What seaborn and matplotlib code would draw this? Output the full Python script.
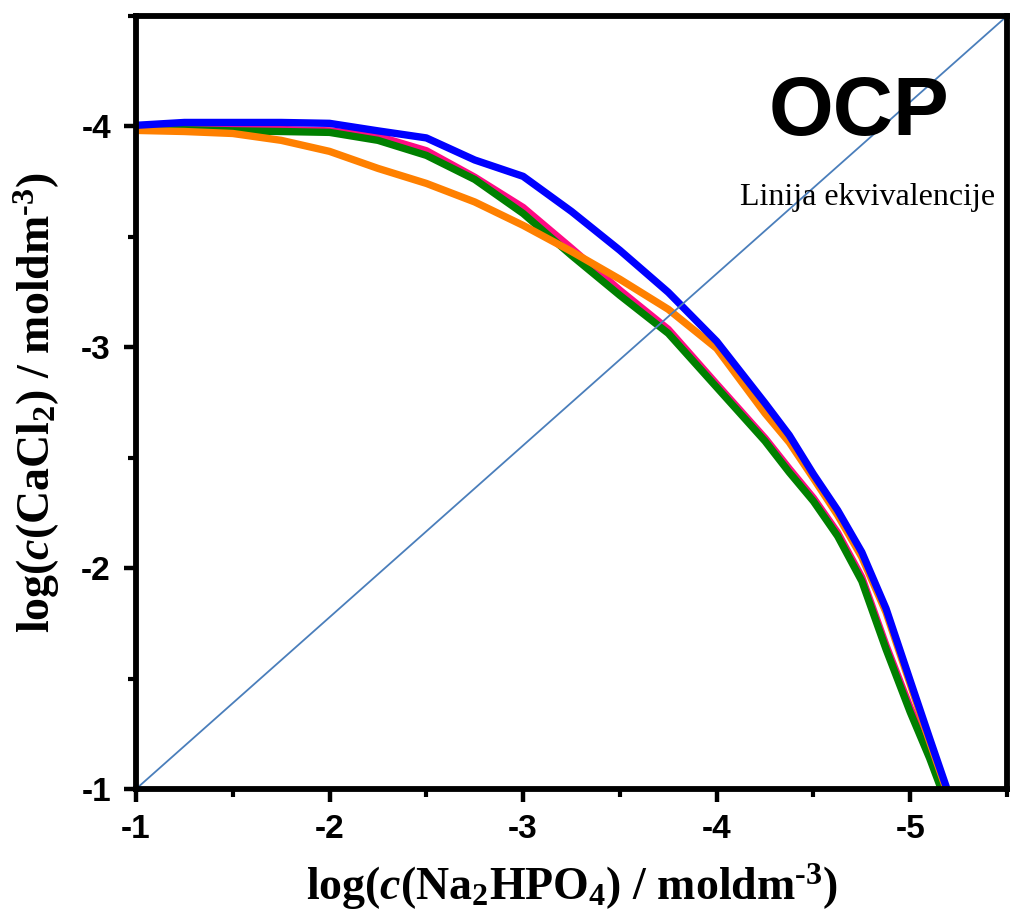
import numpy as np
import pandas as pd
import matplotlib
matplotlib.use("Agg")
import matplotlib.pyplot as plt
import seaborn as sns
from matplotlib.ticker import MultipleLocator, FixedLocator

# ---------------- data ----------------
x_grid = [-1.0, -1.25, -1.5, -1.75, -2.0, -2.25, -2.5, -2.75, -3.0, -3.25,
          -3.5, -3.75, -4.0, -4.25, -4.375, -4.5, -4.625, -4.75, -4.875, -5.0, -5.1]

blue_y = [-4.005, -4.018, -4.018, -4.018, -4.014, -3.98, -3.948, -3.848, -3.774,
          -3.615, -3.439, -3.249, -3.027, -2.747, -2.602, -2.425, -2.262, -2.072,
          -1.817, -1.49, -1.23]
blue_end = (-5.19, -1.0)

pink_y = [-3.995, -3.993, -3.99, -3.986, -3.98, -3.955, -3.89, -3.77, -3.633,
          -3.448, -3.258, -3.081, -2.833, -2.588, -2.45, -2.317, -2.16, -1.958,
          -1.65, -1.367, -1.17]
pink_end = (-5.18, -1.0)

green_y = [-3.99, -3.985, -3.98, -3.977, -3.973, -3.937, -3.869, -3.76, -3.606,
           -3.416, -3.235, -3.063, -2.819, -2.575, -2.434, -2.303, -2.145, -1.941,
           -1.633, -1.348, -1.14]
green_end = (-5.16, -1.0)

orange_y = [-3.982, -3.977, -3.968, -3.937, -3.887, -3.81, -3.742, -3.658, -3.552,
            -3.434, -3.308, -3.172, -2.995, -2.701, -2.57, -2.407, -2.24, -2.05,
            -1.80, -1.475, -1.215]
orange_end = (-5.185, -1.0)

eq_x = [-1.0, -5.5]
eq_y = [-1.0, -4.5]

x_ticks = [-1, -2, -3, -4, -5]
y_ticks = [-1, -2, -3, -4]

series = {
    "pink": (pink_y, pink_end, "#FF0A84"),
    "green": (green_y, green_end, "#008000"),
    "orange": (orange_y, orange_end, "#FF8000"),
    "blue": (blue_y, blue_end, "#0000FF"),
}

# ---------------- style ----------------
sns.set_style("white")
plt.rcParams["font.family"] = ["Liberation Sans", "DejaVu Sans"]
plt.rcParams["text.color"] = "black"
plt.rcParams["axes.labelcolor"] = "black"
plt.rcParams["xtick.color"] = "black"
plt.rcParams["ytick.color"] = "black"
plt.rcParams["mathtext.fontset"] = "custom"
plt.rcParams["mathtext.rm"] = "Liberation Serif:bold"
plt.rcParams["mathtext.it"] = "Liberation Serif:italic:bold"
plt.rcParams["mathtext.bf"] = "Liberation Serif:bold"

fig = plt.figure(figsize=(10.11, 9.15), dpi=100)
ax = fig.add_axes([136 / 1011, 1 - 789 / 915, (1007 - 136) / 1011, (789 - 16) / 915])

frames = []
for name, (ys, end, col) in series.items():
    xs = list(x_grid) + [end[0]]
    yy = list(ys) + [end[1]]
    frames.append(pd.DataFrame({"x": xs, "y": yy, "s": name}))
df = pd.concat(frames, ignore_index=True)

for name, (ys, end, col) in series.items():
    sub = df[df["s"] == name]
    sns.lineplot(data=sub, x="x", y="y", sort=False, color=col, linewidth=5.3,
                 ax=ax, legend=False, estimator=None, solid_joinstyle="round")

sns.lineplot(x=eq_x, y=eq_y, color="#4A7EBB", linewidth=1.3, ax=ax,
             estimator=None, sort=False)

ax.set_xlim(-1, -5.5)
ax.set_ylim(-1, -4.5)

ax.xaxis.set_major_locator(FixedLocator(x_ticks))
ax.yaxis.set_major_locator(FixedLocator(y_ticks))
ax.xaxis.set_minor_locator(MultipleLocator(0.5))
ax.yaxis.set_minor_locator(MultipleLocator(0.5))
ax.set_xticklabels([str(t) for t in x_ticks])
ax.set_yticklabels([str(t) for t in y_ticks])

ax.tick_params(which="major", direction="out", length=9, width=3.2,
               labelsize=24, pad=9, bottom=True, left=True, top=False, right=False)
ax.tick_params(which="minor", direction="out", length=6, width=3.0,
               bottom=True, left=True, top=False, right=False)
for lab in ax.get_xticklabels() + ax.get_yticklabels():
    lab.set_fontweight("bold")
    lab.set_family("Liberation Sans")

for sp in ax.spines.values():
    sp.set_linewidth(4.2)
    sp.set_color("black")
    sp.set_visible(True)

ax.set_xlabel("log($\\mathit{c}$(Na$_2$HPO$_4$) / moldm$^{\u20103}$)",
              fontsize=33, fontweight="bold", family="Liberation Serif", labelpad=12)
ax.set_ylabel("log($\\mathit{c}$(CaCl$_2$) / moldm$^{\u20103}$)",
              fontsize=33, fontweight="bold", family="Liberation Serif", labelpad=14)

ax.text(0.83, 0.875, "OCP", transform=ax.transAxes, ha="center", va="center",
        fontsize=60, fontweight="bold", family="Liberation Sans")
ax.text(0.986, 0.765, "Linija ekvivalencije", transform=ax.transAxes, ha="right",
        va="center", fontsize=23, family="Liberation Serif")

fig.savefig("out.png", dpi=100)
